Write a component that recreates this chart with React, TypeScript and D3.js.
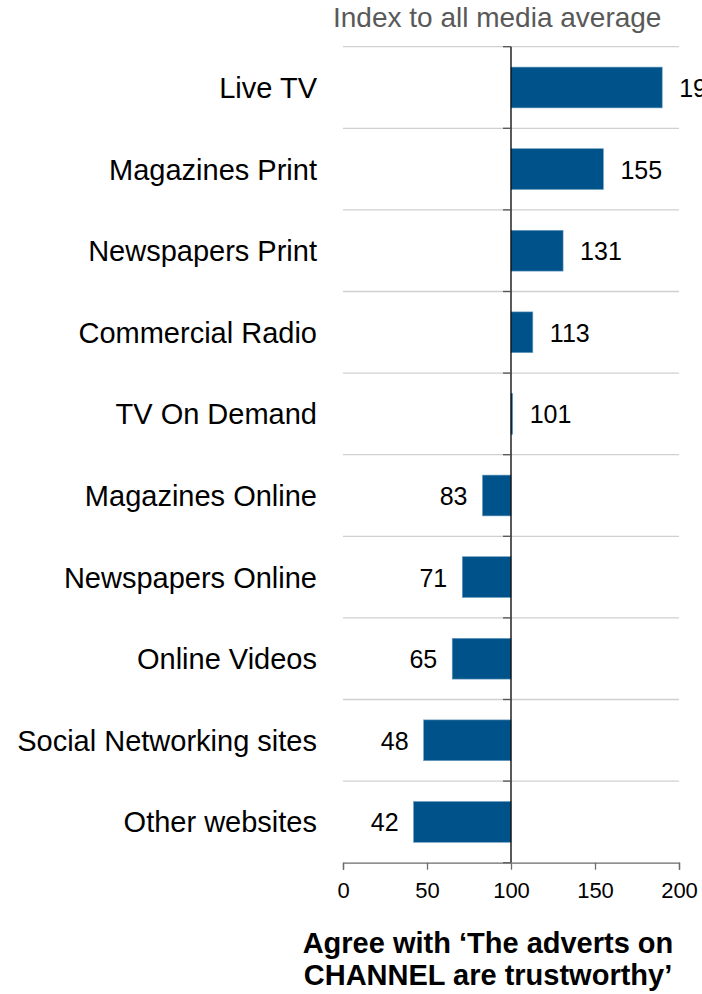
import { useRef, useEffect } from 'react';
import * as d3 from 'd3';

const categories = [
  'Live TV',
  'Magazines Print',
  'Newspapers Print',
  'Commercial Radio',
  'TV On Demand',
  'Magazines Online',
  'Newspapers Online',
  'Online Videos',
  'Social Networking sites',
  'Other websites',
];
const values = [190, 155, 131, 113, 101, 83, 71, 65, 48, 42];
const xTicks = [0, 50, 100, 150, 200];
const title = 'Index to all media average';
const axisTitle = ['Agree with ‘The adverts on', 'CHANNEL are trustworthy’'];
const baseline = 100;

export default function App() {
  const svgRef = useRef<SVGSVGElement>(null);

  useEffect(() => {
    if (!svgRef.current) return;
    const svg = d3.select(svgRef.current);
    svg.selectAll('*').remove();

    const font = 'Liberation Sans, Arial, sans-serif';
    const left = 343;
    const right = 679;
    const top = 46.7;
    const bottom = 862.7;

    const x = d3.scaleLinear().domain([0, 200]).range([left, right]);
    const y = d3.scaleBand<string>().domain(categories).range([top, bottom]).paddingInner(0.5).paddingOuter(0.25);
    const step = y.step();

    // title
    svg.append('text')
      .attr('x', 333)
      .attr('y', 27)
      .attr('fill', '#595959')
      .style('font-family', font)
      .style('font-size', '28px')
      .text(title);

    // gridlines at band boundaries
    const bounds = d3.range(categories.length).map((i) => top + i * step);
    svg.append('g')
      .selectAll('line')
      .data(bounds)
      .join('line')
      .attr('x1', left)
      .attr('x2', right)
      .attr('y1', (d) => d)
      .attr('y2', (d) => d)
      .attr('stroke', '#d0d0d0')
      .attr('stroke-width', 1.3);

    // bars from the 100 baseline
    svg.append('g')
      .selectAll('rect')
      .data(values)
      .join('rect')
      .attr('x', (d) => Math.min(x(d), x(baseline)))
      .attr('y', (_, i) => y(categories[i]) ?? 0)
      .attr('width', (d) => Math.max(1.5, Math.abs(x(d) - x(baseline))))
      .attr('height', y.bandwidth())
      .attr('fill', '#00538a')
      .attr('stroke', '#6f9fc0')
      .attr('stroke-width', 0.6);

    // value labels
    svg.append('g')
      .selectAll('text')
      .data(values)
      .join('text')
      .attr('x', (d) => (d >= baseline ? x(d) + 17 : x(d) - 15))
      .attr('y', (_, i) => (y(categories[i]) ?? 0) + y.bandwidth() / 2)
      .attr('dy', '0.38em')
      .attr('text-anchor', (d) => (d >= baseline ? 'start' : 'end'))
      .attr('fill', '#000')
      .style('font-family', font)
      .style('font-size', '25px')
      .text((d) => d);

    // category labels
    svg.append('g')
      .selectAll('text')
      .data(categories)
      .join('text')
      .attr('x', 317)
      .attr('y', (d) => (y(d) ?? 0) + y.bandwidth() / 2)
      .attr('dy', '0.36em')
      .attr('text-anchor', 'end')
      .attr('fill', '#000')
      .style('font-family', font)
      .style('font-size', '29px')
      .text((d) => d);

    // vertical category axis at the baseline
    svg.append('line')
      .attr('x1', x(baseline))
      .attr('x2', x(baseline))
      .attr('y1', top)
      .attr('y2', bottom)
      .attr('stroke', '#000')
      .attr('stroke-width', 1.3);
    svg.append('g')
      .selectAll('line')
      .data(bounds.concat([bottom]))
      .join('line')
      .attr('x1', x(baseline) - 8)
      .attr('x2', x(baseline))
      .attr('y1', (d) => d)
      .attr('y2', (d) => d)
      .attr('stroke', '#555')
      .attr('stroke-width', 1.3);

    // bottom value axis
    svg.append('g')
      .attr('transform', `translate(0,${bottom})`)
      .call(d3.axisBottom(x).tickValues(xTicks).tickSize(7).tickPadding(13).tickFormat((d) => `${d}`))
      .call((g) => g.selectAll('path, line').attr('stroke', '#6b6b6b').attr('stroke-width', 1.3))
      .call((g) => g.selectAll('text').attr('fill', '#000').style('font-family', font).style('font-size', '22px'));

    // axis title
    const t = svg.append('text')
      .attr('text-anchor', 'middle')
      .attr('fill', '#000')
      .style('font-family', font)
      .style('font-size', '29px')
      .style('font-weight', 'bold');
    axisTitle.forEach((line, i) => {
      t.append('tspan').attr('x', 488).attr('y', 953 + i * 32).text(line);
    });
  }, []);

  return <svg ref={svgRef} width={702} height={994} style={{ position: 'absolute', left: 0, top: 0, background: '#fff' }} />;
}
